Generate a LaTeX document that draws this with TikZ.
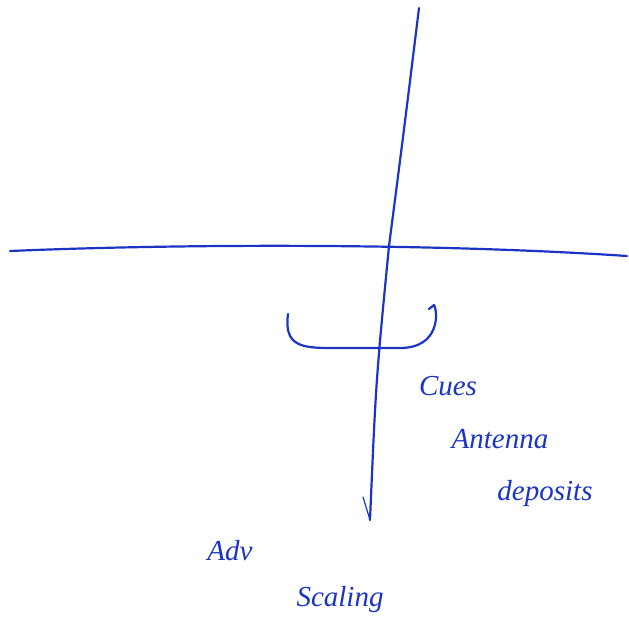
\documentclass[tikz,border=0pt]{standalone}
\usepackage{fontspec}
\setmainfont{Liberation Serif}
\definecolor{pen}{RGB}{28,52,196}
\begin{document}
\begin{tikzpicture}[x=1pt,y=-1pt,
  penline/.style={draw=pen,line width=2.2pt,line cap=round,line join=round},
  handtext/.style={text=pen,font=\itshape\fontsize{29}{31}\selectfont,anchor=center,inner sep=0pt}]
\useasboundingbox (0,0) rectangle (629,624);
% axes
\coordinate (vtop) at (419,8);
\coordinate (vmid) at (389,246);
\coordinate (vbot) at (370,520);
\coordinate (hl) at (10,251);
\coordinate (hr) at (627,256);
\coordinate (tick) at (363,497);
\draw[penline] (vtop) .. controls (404,130) .. (vmid) .. controls (376,380) .. (vbot);
\draw[penline,line width=1.2pt] (tick) -- (vbot);
\draw[penline] (hl) .. controls (200,243) and (450,244) .. (hr);
% U bracket
\coordinate (ul) at (288,314);
\coordinate (ur) at (434,305);
\coordinate (uhook) at (429,309);
\draw[penline] (ul) .. controls (284,345) and (300,348) .. (330,348)
  -- (400,348) .. controls (440,348) and (438,312) .. (ur) -- (uhook);
% labels
\node[handtext] (cues) at (448,386) {Cues};
\node[handtext] (ant) at (500,439) {Antenna};
\node[handtext] (dep) at (545,494) {deposits};
\node[handtext] (adv) at (230,551) {Adv};
\node[handtext] (scal) at (340,600) {Scaling};
\end{tikzpicture}
\end{document}
